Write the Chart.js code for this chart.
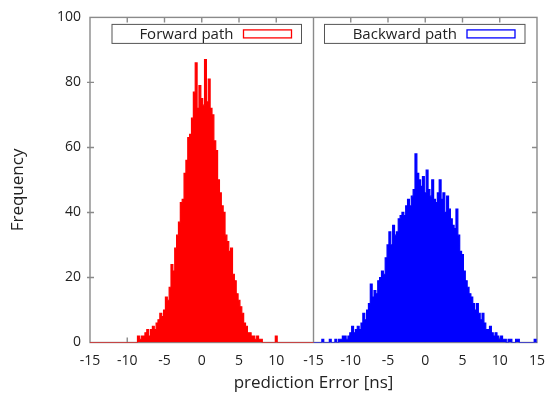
<!DOCTYPE html>
<html>
<head>
<meta charset="utf-8">
<script src="https://cdn.jsdelivr.net/npm/chart.js@4.4.1/dist/chart.umd.min.js"></script>
<style>
  html, body { margin: 0; padding: 0; background: #ffffff; }
  #c { display: block; }
</style>
</head>
<body>
<canvas id="c" width="555" height="397"></canvas>
<script>
// ---- data ----
const bins = [
  -15, -14.75, -14.5, -14.25, -14, -13.75, -13.5, -13.25, -13, -12.75,
  -12.5, -12.25, -12, -11.75, -11.5, -11.25, -11, -10.75, -10.5, -10.25,
  -10, -9.75, -9.5, -9.25, -9, -8.75, -8.5, -8.25, -8, -7.75,
  -7.5, -7.25, -7, -6.75, -6.5, -6.25, -6, -5.75, -5.5, -5.25,
  -5, -4.75, -4.5, -4.25, -4, -3.75, -3.5, -3.25, -3, -2.75,
  -2.5, -2.25, -2, -1.75, -1.5, -1.25, -1, -0.75, -0.5, -0.25,
  0, 0.25, 0.5, 0.75, 1, 1.25, 1.5, 1.75, 2, 2.25,
  2.5, 2.75, 3, 3.25, 3.5, 3.75, 4, 4.25, 4.5, 4.75,
  5, 5.25, 5.5, 5.75, 6, 6.25, 6.5, 6.75, 7, 7.25,
  7.5, 7.75, 8, 8.25, 8.5, 8.75, 9, 9.25, 9.5, 9.75,
  10, 10.25, 10.5, 10.75, 11, 11.25, 11.5, 11.75, 12, 12.25,
  12.5, 12.75, 13, 13.25, 13.5, 13.75, 14, 14.25, 14.5, 14.75,
  15
];

const forwardCounts = [
  0, 0, 0, 0, 0, 0, 0, 0, 0, 0,
  0, 0, 0, 0, 0, 0, 0, 0, 0, 0,
  0, 0, 0, 0, 0, 0, 2, 1, 2, 2,
  3, 4, 2, 4, 5, 4, 6, 7, 9, 8,
  10, 14, 13, 17, 24, 22, 29, 33, 37, 43,
  44, 52, 56, 63, 64, 69, 77, 86, 72, 79,
  75, 73, 87, 74, 81, 72, 70, 62, 59, 50,
  46, 42, 40, 33, 31, 28, 29, 21, 19, 15,
  13, 11, 9, 6, 5, 3, 3, 2, 2, 1,
  2, 1, 1, 0, 0, 0, 0, 0, 0, 0,
  2, 0, 0, 0, 0, 0, 0, 0, 0, 0,
  0, 0, 0, 0, 0, 0, 0, 0, 0, 0,
  0
];

const backwardCounts = [
  0, 0, 0, 0, 0, 1, 0, 0, 0, 1,
  0, 0, 1, 0, 1, 1, 2, 2, 1, 2,
  3, 5, 3, 4, 5, 4, 6, 9, 7, 10,
  12, 18, 14, 16, 15, 19, 20, 22, 21, 26,
  30, 34, 30, 36, 33, 34, 38, 39, 40, 39,
  42, 44, 42, 45, 47, 58, 52, 50, 48, 51,
  46, 53, 47, 45, 50, 44, 43, 46, 50, 44,
  46, 40, 45, 41, 38, 36, 35, 41, 33, 28,
  27, 22, 19, 17, 15, 14, 12, 10, 12, 9,
  7, 9, 6, 4, 4, 5, 3, 2, 3, 2,
  1, 2, 1, 1, 0, 1, 1, 0, 0, 1,
  1, 0, 0, 0, 0, 0, 0, 0, 0, 1,
  0
];

const panelLabels = ['Forward path', 'Backward path'];
const panelColors = ['#ff0000', '#0000ff'];
const panelShift = 30;               // second panel is drawn at x + 30 on the shared axis
const xTickLabels = ['-15', '-10', '-5', '0', '5', '10', '-15', '-10', '-5', '0', '5', '10', '15'];
const yTicks = [0, 20, 40, 60, 80, 100];
const xTitle = 'prediction Error [ns]';
const yTitle = 'Frequency';

// ---- chart ----
Chart.defaults.font.family = '"Open Sans", "Noto Sans", "DejaVu Sans", sans-serif';
Chart.defaults.color = '#222222';

const frameColor = '#8a8a8a';

const framePlugin = {
  id: 'framePlugin',
  beforeDatasetsDraw(chart) {
    const { ctx, chartArea: a, scales: { x, y } } = chart;
    const mid = x.getPixelForValue(15);
    ctx.save();
    ctx.strokeStyle = frameColor;
    ctx.lineWidth = 1.4;
    ctx.strokeRect(a.left, a.top, a.right - a.left, a.bottom - a.top);
    ctx.beginPath();
    ctx.moveTo(mid, a.top); ctx.lineTo(mid, a.bottom);
    x.ticks.forEach(t => {
      if (t.value <= x.min || t.value >= x.max || t.value === 15) return;
      const px = x.getPixelForValue(t.value);
      ctx.moveTo(px, a.top); ctx.lineTo(px, a.top + 5);
      ctx.moveTo(px, a.bottom); ctx.lineTo(px, a.bottom - 5);
    });
    y.ticks.forEach(t => {
      if (t.value <= y.min || t.value >= y.max) return;
      const py = y.getPixelForValue(t.value);
      ctx.moveTo(a.left - 3, py); ctx.lineTo(a.left + 4, py);
      ctx.moveTo(a.right, py); ctx.lineTo(a.right - 5, py);
    });
    ctx.stroke();
    ctx.restore();
  },
  afterDatasetsDraw(chart) {
    const { ctx, chartArea: a, scales: { x } } = chart;
    const mid = x.getPixelForValue(15);
    const boxes = [
      { x1: a.left + 22, x2: mid - 12 },
      { x1: mid + 11, x2: a.right - 12 }
    ];
    const top = a.top + 7, h = 19;
    ctx.save();
    boxes.forEach((b, i) => {
      ctx.fillStyle = '#ffffff';
      ctx.fillRect(b.x1, top, b.x2 - b.x1, h);
      ctx.strokeStyle = '#555555';
      ctx.lineWidth = 1;
      ctx.strokeRect(b.x1, top, b.x2 - b.x1, h);
      const sw = 48, sh = 8;
      const sx = b.x2 - 10 - sw;
      const sy = top + (h - sh) / 2;
      ctx.strokeStyle = panelColors[i];
      ctx.lineWidth = 1.3;
      ctx.strokeRect(sx, sy, sw, sh);
      ctx.fillStyle = '#222222';
      ctx.font = '15px "Open Sans", "Noto Sans", sans-serif';
      ctx.textAlign = 'right';
      ctx.textBaseline = 'middle';
      ctx.fillText(panelLabels[i], sx - 10, top + h / 2 + 0.5);
    });
    // y-axis title, placed slightly below the plot's vertical centre as in the reference
    ctx.translate(18, (a.top + a.bottom) / 2 + 10);
    ctx.rotate(-Math.PI / 2);
    ctx.fillStyle = '#222222';
    ctx.font = '17px "Open Sans", "Noto Sans", sans-serif';
    ctx.textAlign = 'center';
    ctx.textBaseline = 'middle';
    ctx.fillText(yTitle, 0, 0);
    ctx.restore();
  }
};

function makeSeries(counts, shift) {
  return bins.map((b, i) => ({ x: b + shift, y: counts[i] }));
}

new Chart(document.getElementById('c'), {
  type: 'line',
  data: {
    datasets: [
      {
        label: panelLabels[0],
        data: makeSeries(forwardCounts, 0),
        stepped: 'middle',
        fill: 'origin',
        backgroundColor: panelColors[0],
        borderColor: panelColors[0],
        borderWidth: 1.2,
        pointRadius: 0
      },
      {
        label: panelLabels[1],
        data: makeSeries(backwardCounts, panelShift),
        stepped: 'middle',
        fill: 'origin',
        backgroundColor: panelColors[1],
        borderColor: panelColors[1],
        borderWidth: 1.2,
        pointRadius: 0
      }
    ]
  },
  options: {
    responsive: false,
    animation: false,
    events: [],
    layout: { padding: { top: 16, right: 11, left: 0, bottom: 0 } },
    plugins: { legend: { display: false }, tooltip: { enabled: false } },
    scales: {
      x: {
        type: 'linear',
        min: -15,
        max: 45,
        afterBuildTicks(scale) {
          scale.ticks = xTickLabels.map((_, i) => ({ value: scale.min + i * 5 }));
        },
        ticks: {
          autoSkip: false,
          maxRotation: 0,
          padding: 10,
          font: { size: 14 },
          callback: (v, i) => xTickLabels[i]
        },
        grid: { display: false, drawTicks: false },
        border: { display: false },
        title: { display: true, text: xTitle, font: { size: 17 }, padding: { top: 0, bottom: 4 } },
        afterFit(scale) { scale.height = 54.5; }
      },
      y: {
        min: 0,
        max: 100,
        afterBuildTicks(scale) {
          scale.ticks = yTicks.map(v => ({ value: v }));
        },
        ticks: { padding: 9, font: { size: 14 } },
        grid: { display: false, drawTicks: false },
        border: { display: false },
        title: { display: false },
        afterFit(scale) { scale.width = 90; }
      }
    }
  },
  plugins: [framePlugin]
});
</script>
</body>
</html>
